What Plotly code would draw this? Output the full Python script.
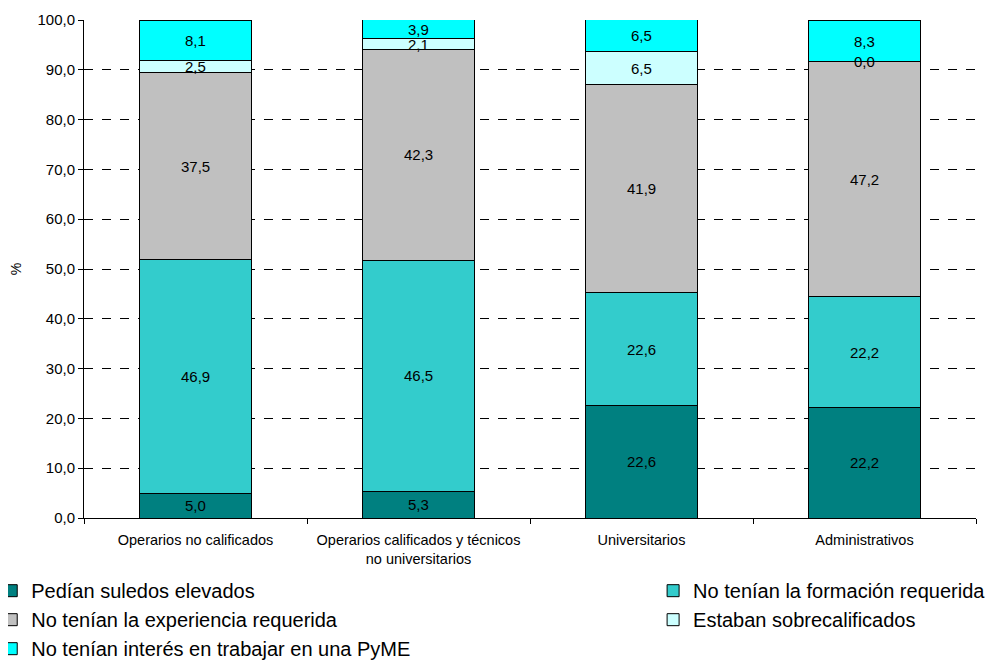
import plotly.graph_objects as go

categories = ["Operarios no calificados",
              "Operarios calificados y técnicos<br>no universitarios",
              "Universitarios",
              "Administrativos"]
series_names = ["Pedían suledos elevados",
                "No tenían la formación requerida",
                "No tenían la experiencia requerida",
                "Estaban sobrecalificados",
                "No tenían interés en trabajar en una PyME"]
pedian = [5.0, 5.3, 22.6, 22.2]
formacion = [46.9, 46.5, 22.6, 22.2]
experiencia = [37.5, 42.3, 41.9, 47.2]
sobrecalificados = [2.5, 2.1, 6.5, 0.0]
interes = [8.1, 3.9, 6.5, 8.3]
colors = ["#008080", "#33CCCC", "#C0C0C0", "#CCFFFF", "#00FFFF"]
legend_ids = ["legend", "legend2", "legend", "legend2", "legend"]
y_ticks = [0, 10, 20, 30, 40, 50, 60, 70, 80, 90, 100]

series = [pedian, formacion, experiencia, sobrecalificados, interes]

fig = go.Figure()
for name, vals, col, lg in zip(series_names, series, colors, legend_ids):
    fig.add_trace(go.Bar(x=categories, y=vals, name=name, legend=lg,
                         marker=dict(color=col, line=dict(color="black", width=1))))

annotations = []
cum = [0.0] * len(categories)
for vals in series:
    for i, v in enumerate(vals):
        annotations.append(dict(x=categories[i], y=cum[i] + v / 2,
                                text=f"{v:.1f}".replace(".", ","),
                                showarrow=False,
                                font=dict(size=15, color="black",
                                          family="Liberation Sans, Arial")))
        cum[i] += v

legend_style = dict(orientation="v", traceorder="normal",
                    yref="container", y=0.148, yanchor="top", xanchor="left",
                    font=dict(size=20, family="Liberation Sans, Arial"),
                    itemwidth=30, bgcolor="rgba(0,0,0,0)")

fig.update_layout(
    barmode="stack",
    bargap=0.5,
    width=998, height=661,
    margin=dict(l=76, r=30, t=12, b=151, autoexpand=False),
    plot_bgcolor="white", paper_bgcolor="white",
    separators=",.",
    font=dict(family="Liberation Sans, Arial", color="black"),
    annotations=annotations,
    showlegend=True,
    legend=dict(x=-0.104, **legend_style),
    legend2=dict(x=0.638, **legend_style),
)
fig.update_xaxes(showline=True, linecolor="black", linewidth=1,
                 ticks="outside", tickson="boundaries", ticklen=5,
                 tickcolor="black", tickfont=dict(size=14.5),
                 ticklabelstandoff=9,
                 showgrid=False, tickangle=0, automargin=False)
fig.update_yaxes(range=[0, 100], tickvals=y_ticks, tickformat=".1f",
                 showline=True, linecolor="black", linewidth=1,
                 ticks="outside", ticklen=5, tickcolor="black",
                 tickfont=dict(size=15), automargin=False,
                 showgrid=True, gridcolor="black", griddash="dash", gridwidth=1,
                 title=dict(text="%", font=dict(size=14), standoff=15),
                 zeroline=False)

fig.write_html("out.html")
